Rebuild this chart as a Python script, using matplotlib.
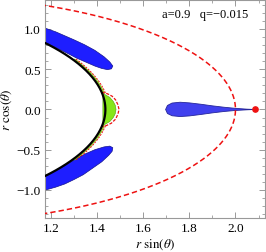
import numpy as np
import matplotlib
matplotlib.use("Agg")
import matplotlib.pyplot as plt
from matplotlib.ticker import MultipleLocator, FuncFormatter

# ---- parameters shown on the chart ----
a_spin = 0.9
q_param = -0.015

# ---- regions (x = r sin(theta), y = r cos(theta)) ----
upper_blue_x = [1.17, 1.22, 1.26, 1.30, 1.345, 1.39, 1.43, 1.455, 1.468, 1.462, 1.445,
                1.42, 1.39, 1.35, 1.31, 1.27, 1.22, 1.17]
upper_blue_y = [1.015, 0.965, 0.915, 0.865, 0.805, 0.735, 0.655, 0.59, 0.54, 0.505, 0.495,
                0.51, 0.54, 0.59, 0.64, 0.70, 0.77, 0.84]

lower_blue_x = [1.17, 1.22, 1.27, 1.31, 1.35, 1.39, 1.43, 1.455, 1.468, 1.465, 1.45,
                1.42, 1.38, 1.34, 1.30, 1.26, 1.22, 1.17]
lower_blue_y = [-0.835, -0.765, -0.68, -0.61, -0.55, -0.50, -0.465, -0.455, -0.475, -0.52, -0.57,
                -0.65, -0.73, -0.81, -0.87, -0.925, -0.965, -1.005]

lobe_x = [1.697, 1.705, 1.725, 1.76, 1.80, 1.85, 1.90, 1.95, 2.00, 2.05, 2.084,
          2.05, 2.00, 1.95, 1.90, 1.85, 1.80, 1.76, 1.725, 1.705]
lobe_y = [0.0, 0.05, 0.08, 0.09, 0.082, 0.065, 0.045, 0.028, 0.014, 0.004, 0.0,
          -0.004, -0.012, -0.025, -0.042, -0.062, -0.08, -0.088, -0.078, -0.05]

blob_x = [1.425, 1.437, 1.455, 1.470, 1.479, 1.482, 1.479, 1.470, 1.455, 1.437, 1.425]
blob_y = [0.20, 0.18, 0.15, 0.10, 0.05, 0.0, -0.05, -0.10, -0.15, -0.18, -0.20]

blob_edge_x = [1.420, 1.445, 1.465, 1.480, 1.490, 1.495, 1.490, 1.480, 1.462, 1.440, 1.420]
blob_edge_y = [0.215, 0.195, 0.165, 0.12, 0.06, 0.0, -0.06, -0.12, -0.17, -0.20, -0.215]

strip_y_top = [0.62, 0.20]      # extent of thin layer near horizon (upper)
strip_y_bot = [-0.20, -0.62]    # (lower)

dot_x = [2.084]
dot_y = [0.0]

xlim = (1.174, 2.128)
ylim = (-1.348, 1.36)

# ---- figure ----
plt.rcParams['mathtext.fontset'] = 'stix'
serif = ['Liberation Serif', 'DejaVu Serif']

fig = plt.figure(figsize=(2.66, 2.53), dpi=100)
ax = fig.add_axes([45/266, 34/253, 220/266, 218/253])

blue = '#1e1eff'
ax.fill(upper_blue_x, upper_blue_y, color=blue, ec='#14148c', lw=0.5, zorder=2)
ax.fill(lower_blue_x, lower_blue_y, color=blue, ec='#14148c', lw=0.5, zorder=2)
ax.fill(lobe_x, lobe_y, color='#4040ee', ec='#26269a', lw=0.6, zorder=2)

# horizon
rh = 1 + np.sqrt(1 - a_spin**2)
th = np.linspace(0, np.pi, 400)
hx, hy = rh*np.sin(th), rh*np.cos(th)

# thin layer just outside the horizon
for ys in (strip_y_top, strip_y_bot):
    yy = np.linspace(ys[0], ys[1], 60)
    xx = np.sqrt(rh**2 - yy**2)
    ax.plot(xx*1.004, yy*1.004, color='#e8e020', lw=0.6, zorder=3)
    ax.plot(xx*1.006, yy*1.006, color='#70d010', lw=0.7, zorder=3)
    ax.plot(xx*1.010, yy*1.010, color='#ee1111', lw=0.7, ls=(0, (2, 1.2)), zorder=3)

# green blob near equator
ax.fill(blob_x, blob_y, color='#86e61a', ec='#55a010', lw=0.4, zorder=3)
ax.plot(blob_edge_x, blob_edge_y, color='#ee1111', lw=0.9, ls=(0, (2.5, 1.2)), zorder=4)

ax.plot(hx, hy, color='black', lw=1.6, zorder=5)

# ergosphere
tt = np.linspace(0.0, np.pi, 600)
re = 1 + np.sqrt(1 - a_spin**2*np.cos(tt)**2)
ax.plot(re*np.sin(tt), re*np.cos(tt), color='#ee1111', lw=1.1, ls=(0, (3.5, 2)), zorder=4)

ax.plot(dot_x, dot_y, 'o', color='#ee1111', ms=3.8, mec='#ee1111', zorder=6)

ax.text(1.868, 1.186, 'a=0.9   q=\u22120.015', ha='center', va='center',
        fontsize=9, family=serif)

ax.set_xlim(*xlim)
ax.set_ylim(*ylim)

fmt = FuncFormatter(lambda v, p: f'{v:.1f}'.replace('-', '\u2212'))
ax.xaxis.set_major_locator(MultipleLocator(0.2))
ax.xaxis.set_minor_locator(MultipleLocator(0.1))
ax.yaxis.set_major_locator(MultipleLocator(0.5))
ax.yaxis.set_minor_locator(MultipleLocator(0.1))
ax.xaxis.set_major_formatter(fmt)
ax.yaxis.set_major_formatter(fmt)

gray = '#999999'
for s in ax.spines.values():
    s.set_color(gray)
    s.set_linewidth(0.8)
ax.tick_params(which='both', direction='in', top=True, right=True, color=gray,
               labelsize=9.5, pad=3)
ax.tick_params(which='major', length=4, width=0.7)
ax.tick_params(which='minor', length=2, width=0.6)
for lab in ax.get_xticklabels() + ax.get_yticklabels():
    lab.set_family(serif)

ax.set_xlabel(r'$r\ \mathrm{sin}(\theta)$', fontsize=9.5)
ax.set_ylabel(r'$r\ \mathrm{cos}(\theta)$', fontsize=9.5)
ax.xaxis.set_label_coords(0.5, -0.085)
ax.yaxis.set_label_coords(-0.14, 0.5)

fig.savefig('out.png', dpi=100)
